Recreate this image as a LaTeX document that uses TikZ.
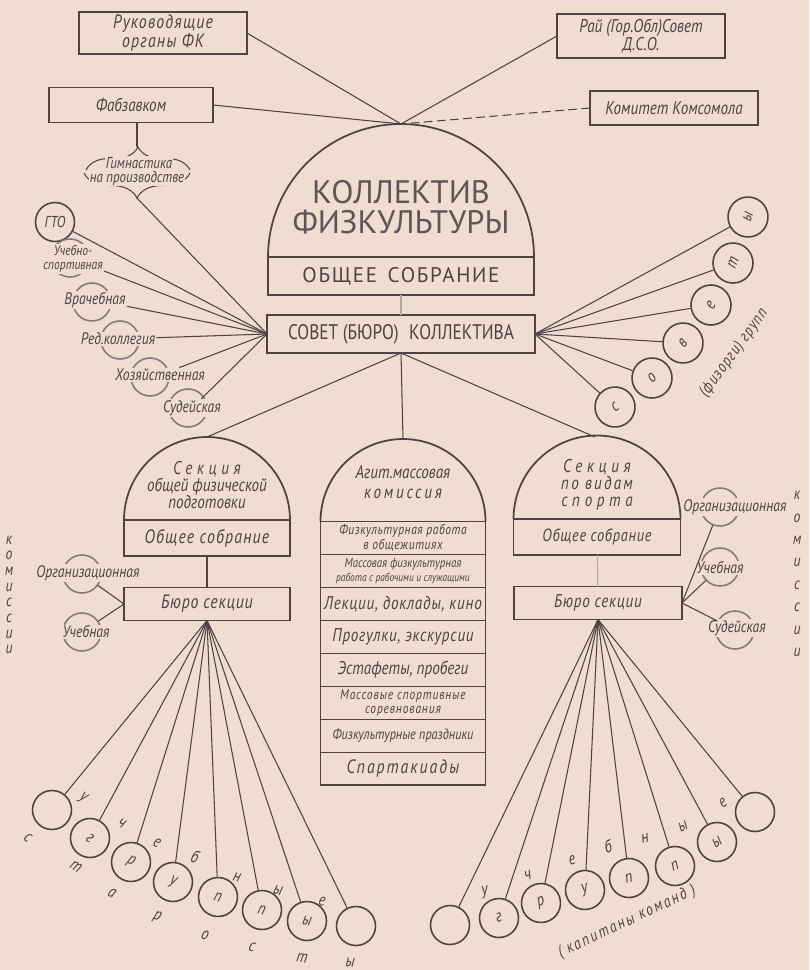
\documentclass[tikz,border=0pt]{standalone}
\usepackage{fontspec}
\setmainfont{PT Sans}
\newfontfamily\gostfont{PT Sans}[FakeStretch=0.82]
\newfontfamily\titlefont{PT Sans}
\usetikzlibrary{positioning, shapes.geometric, decorations.pathreplacing, calc}
\definecolor{paper}{RGB}{239,221,209}
\definecolor{ink}{RGB}{78,66,66}

\begin{document}
\begin{tikzpicture}[
    x=0.02cm, y=-0.02cm,
    every node/.style={align=center, text=ink, font=\gostfont\itshape\fontsize{10}{10}\selectfont},
    orgbox/.style={draw=ink, rectangle, line width=1.1pt, inner sep=1pt, outer sep=0pt},
    domeline/.style={draw=ink, line width=1pt},
    link/.style={draw=ink, line width=0.6pt},
    commring/.style={draw=ink!70, circle, line width=0.9pt, minimum size=0.76cm, inner sep=0pt},
    commlabel/.style={fill=paper, inner sep=0.6pt, font=\gostfont\itshape\fontsize{9.5}{9}\selectfont},
    groupcircle/.style={draw=ink, circle, line width=0.9pt, minimum size=0.78cm, inner sep=0pt, font=\gostfont\itshape\fontsize{10}{10}\selectfont},
    fanletter/.style={inner sep=0pt, font=\gostfont\itshape\fontsize{10}{10}\selectfont}
]
\fill[paper] (0,0) rectangle (809,970);
\useasboundingbox (0,0) rectangle (809,970);

\node[orgbox, minimum width=3.36cm, minimum height=0.84cm, font=\gostfont\itshape\fontsize{11}{10}\selectfont\addfontfeature{LetterSpace=6}] (rukovod_organy) at (163,33) {Руководящие\\органы ФК};
\node[orgbox, minimum width=3.36cm, minimum height=0.88cm, font=\gostfont\itshape\fontsize{10.5}{10}\selectfont] (rai_sovet_dso) at (641,36) {Рай (Гор.Обл)Совет\\Д.С.О.};
\node[orgbox, minimum width=3.28cm, minimum height=0.70cm, font=\gostfont\itshape\fontsize{10.5}{10}\selectfont] (fabzavkom) at (131,105) {Фабзавком};
\node[orgbox, minimum width=3.36cm, minimum height=0.68cm, font=\gostfont\itshape\fontsize{10.5}{10}\selectfont] (komitet_komsomola) at (674,108) {Комитет Комсомола};

\coordinate (gymnastics_peak) at (137,147);
\coordinate (gymnastics_tip) at (137,198);
\draw[link, decorate, decoration={brace, amplitude=0.46cm}] (86,170) -- (190,170);
\draw[link, decorate, decoration={brace, amplitude=0.5cm}] (190,173) -- (84,173);
\node[fill=paper, inner sep=0.5pt, font=\gostfont\itshape\fontsize{9}{9}\selectfont] (gymnastics_top_text) at (139,163) {Гимнастика};
\node[fill=paper, inner sep=0.5pt, font=\gostfont\itshape\fontsize{9}{9}\selectfont] (gymnastics_bottom_text) at (137,178) {на производстве};

\node[orgbox, minimum width=5.32cm, minimum height=0.76cm, font=\titlefont\fontsize{12}{12}\selectfont\addfontfeature{LetterSpace=8}] (kollektiv_sobranie) at (401,276) {ОБЩЕЕ\enspace СОБРАНИЕ};
\draw[domeline] (kollektiv_sobranie.north west) arc[start angle=180, end angle=0, radius=2.66cm];
\coordinate (kollektiv_top) at (401,124);
\node[text=ink!90, font=\titlefont\fontsize{18.5}{17}\selectfont] (kollektiv_title) at (401,207) {КОЛЛЕКТИВ\\ФИЗКУЛЬТУРЫ};
\node[orgbox, minimum width=5.36cm, minimum height=0.76cm, font=\gostfont\fontsize{12}{12}\selectfont] (sovet_kollektiva) at (401,334) {СОВЕТ (БЮРО)\enspace КОЛЛЕКТИВА};

\draw[link] (rukovod_organy.east) -- (kollektiv_top);
\draw[link] (fabzavkom.east) -- (kollektiv_top);
\draw[link] (rai_sovet_dso.west) -- (kollektiv_top);
\draw[link, dash pattern=on 5pt off 2.5pt] (komitet_komsomola.west) -- (kollektiv_top);
\draw[link] (gymnastics_peak |- fabzavkom.south) -- (gymnastics_peak);
\draw[link, draw=ink!45] (kollektiv_sobranie) -- (sovet_kollektiva);

\node[draw=ink, circle, line width=0.9pt, minimum size=0.78cm, inner sep=0pt, font=\gostfont\itshape\fontsize{9}{9}\selectfont] (gto) at (55,222) {ГТО};
\node[commring] (uchebno_sport_ring) at (70,258) {};
\node[commlabel, font=\gostfont\itshape\fontsize{8}{8}\selectfont] (uchebno_sport) at (73,259) {Учебно-\\спортивная};
\node[commring] (vrachebnaya_ring) at (92,302) {};
\node[commlabel] (vrachebnaya) at (95,300) {Врачебная};
\node[commring] (red_kollegiya_ring) at (120,340) {};
\node[commlabel] (red_kollegiya) at (118,339) {Ред.коллегия};
\node[commring] (khozyaistvennaya_ring) at (150,377) {};
\node[commlabel] (khozyaistvennaya) at (160,375) {Хозяйственная};
\node[commring] (sudeiskaya_ring) at (188,408) {};
\node[commlabel] (sudeiskaya) at (192,408) {Судейская};

\draw[link] (sovet_kollektiva.west) -- (gto);
\draw[link] (sovet_kollektiva.west) -- (uchebno_sport);
\draw[link] (sovet_kollektiva.west) -- (vrachebnaya);
\draw[link] (sovet_kollektiva.west) -- (red_kollegiya);
\draw[link] (sovet_kollektiva.west) -- (khozyaistvennaya);
\draw[link] (sovet_kollektiva.west) -- (sudeiskaya);
\draw[link] (sovet_kollektiva.west) -- (gymnastics_tip);

\node[groupcircle, minimum size=0.8cm, rotate=38] (fizorg_s) at (615,407) {с};
\node[groupcircle, minimum size=0.8cm, rotate=43] (fizorg_o) at (652,378) {о};
\node[groupcircle, minimum size=0.8cm, rotate=51] (fizorg_v) at (683,343) {в};
\node[groupcircle, minimum size=0.8cm, rotate=58] (fizorg_e) at (711,305) {е};
\node[groupcircle, minimum size=0.8cm, rotate=67] (fizorg_t) at (733,263) {т};
\node[groupcircle, minimum size=0.8cm, rotate=72] (fizorg_y) at (748,217) {ы};
\node[rotate=54, font=\gostfont\itshape\fontsize{9.5}{9}\selectfont\addfontfeature{LetterSpace=6}] (fizorgi_grupp) at (734,353) {(физорги) групп};
\draw[link] (sovet_kollektiva.east) -- (fizorg_s);
\draw[link] (sovet_kollektiva.east) -- (fizorg_o);
\draw[link] (sovet_kollektiva.east) -- (fizorg_v);
\draw[link] (sovet_kollektiva.east) -- (fizorg_e);
\draw[link] (sovet_kollektiva.east) -- (fizorg_t);
\draw[link] (sovet_kollektiva.east) -- (fizorg_y);

\node[orgbox, minimum width=3.32cm, minimum height=0.72cm, font=\gostfont\itshape\fontsize{11}{10}\selectfont\addfontfeature{LetterSpace=6}] (left_sobranie) at (207,538) {Общее собрание};
\draw[domeline] (left_sobranie.north west) arc[start angle=180, end angle=0, radius=1.66cm];
\coordinate (left_section_top) at (207,437);
\node[font=\gostfont\itshape\fontsize{10.5}{9.6}\selectfont] (left_section_title) at (207,485) {{\addfontfeature{LetterSpace=25}Секция}\\общей физической\\подготовки};
\node[orgbox, minimum width=3.32cm, minimum height=0.66cm, font=\gostfont\itshape\fontsize{11}{10}\selectfont\addfontfeature{LetterSpace=4}] (left_buro) at (207,604) {Бюро секции};
\draw[link] (left_sobranie) -- (left_buro);

\node[commring] (left_org_ring) at (82,574) {};
\node[commlabel] (left_org) at (88,573) {Организационная};
\node[commring] (left_ucheb_ring) at (82,632) {};
\node[commlabel] (left_ucheb) at (86,632) {Учебная};
\draw[link] (left_buro.west) -- (left_org_ring);
\draw[link] (left_buro.west) -- (left_ucheb_ring);
\node[font=\gostfont\itshape\fontsize{9.5}{8.9}\selectfont] (left_komissii) at (9,595) {к\\о\\м\\и\\с\\с\\и\\и};

\node[orgbox, minimum width=3.3cm, minimum height=0.66cm, font=\gostfont\itshape\fontsize{8}{8.5}\selectfont\addfontfeature{LetterSpace=4}] (agit_obshchezhitiya) at (403,538) {Физкультурная работа\\в общежитиях};
\draw[domeline] (agit_obshchezhitiya.north west) arc[start angle=180, end angle=0, radius=1.65cm];
\coordinate (middle_section_top) at (403,439);
\node[font=\gostfont\itshape\fontsize{10.5}{11.3}\selectfont] (agit_title) at (403,482) {Агит.массовая\\{\addfontfeature{LetterSpace=15}комиссия}};
\node[orgbox, minimum width=3.3cm, minimum height=0.66cm, below=0pt of agit_obshchezhitiya, font=\gostfont\itshape\fontsize{7.5}{7.5}\selectfont] (agit_rabochie) {Массовая физкультурная\\{\fontsize{6.5}{6.5}\selectfont работа с рабочими и служащими}};
\node[orgbox, minimum width=3.3cm, minimum height=0.66cm, below=0pt of agit_rabochie, font=\gostfont\itshape\fontsize{10.5}{10}\selectfont\addfontfeature{LetterSpace=4}] (agit_lektsii) {Лекции, доклады, кино};
\node[orgbox, minimum width=3.3cm, minimum height=0.66cm, below=0pt of agit_lektsii, font=\gostfont\itshape\fontsize{10.5}{10}\selectfont\addfontfeature{LetterSpace=4}] (agit_progulki) {Прогулки, экскурсии};
\node[orgbox, minimum width=3.3cm, minimum height=0.66cm, below=0pt of agit_progulki, font=\gostfont\itshape\fontsize{10.5}{10}\selectfont] (agit_estafety) {Эстафеты, пробеги};
\node[orgbox, minimum width=3.3cm, minimum height=0.66cm, below=0pt of agit_estafety, font=\gostfont\itshape\fontsize{8}{8.5}\selectfont\addfontfeature{LetterSpace=6}] (agit_sorevnovaniya) {Массовые спортивные\\соревнования};
\node[orgbox, minimum width=3.3cm, minimum height=0.66cm, below=0pt of agit_sorevnovaniya, font=\gostfont\itshape\fontsize{8.5}{8.5}\selectfont] (agit_prazdniki) {Физкультурные праздники};
\node[orgbox, minimum width=3.3cm, minimum height=0.66cm, below=0pt of agit_prazdniki, font=\gostfont\itshape\fontsize{11}{10}\selectfont\addfontfeature{LetterSpace=10}] (agit_spartakiady) {Спартакиады};

\node[orgbox, minimum width=3.34cm, minimum height=0.72cm, font=\gostfont\itshape\fontsize{10}{10}\selectfont\addfontfeature{LetterSpace=4}] (right_sobranie) at (597,537) {Общее собрание};
\draw[domeline] (right_sobranie.north west) arc[start angle=180, end angle=0, radius=1.67cm];
\coordinate (right_section_top) at (595,437);
\node[font=\gostfont\itshape\fontsize{10.5}{9.6}\selectfont] (right_section_title) at (597,485) {{\addfontfeature{LetterSpace=25}Секция}\\{\addfontfeature{LetterSpace=12}по видам}\\{\addfontfeature{LetterSpace=25}спорта}};
\node[orgbox, minimum width=3.36cm, minimum height=0.66cm, font=\gostfont\itshape\fontsize{10.5}{10}\selectfont\addfontfeature{LetterSpace=4}] (right_buro) at (598,603) {Бюро секции};
\draw[link, draw=ink!45] (right_sobranie) -- (right_buro);

\node[commring] (right_org_ring) at (720,507) {};
\node[commlabel] (right_org) at (735,507) {Организационная};
\node[commring] (right_ucheb_ring) at (720,567) {};
\node[commlabel] (right_ucheb) at (720,568) {Учебная};
\node[commring] (right_sud_ring) at (735,630) {};
\node[commlabel] (right_sud) at (737,628) {Судейская};
\draw[link] (right_buro.east) -- (right_org_ring);
\draw[link] (right_buro.east) -- (right_ucheb_ring);
\draw[link] (right_buro.east) -- (right_sud_ring);
\node[font=\gostfont\itshape\fontsize{9.5}{12.75}\selectfont] (right_komissii) at (797,574) {к\\о\\м\\и\\с\\с\\и\\и};

\draw[link] (sovet_kollektiva.south) -- (left_section_top);
\draw[link] (sovet_kollektiva.south) -- (middle_section_top);
\draw[link] (sovet_kollektiva.south) -- (right_section_top);

\node[groupcircle] (left_group_1) at (52,810) {};
\node[groupcircle, rotate=-33] (left_group_2) at (90,838) {г};
\node[groupcircle, rotate=-28] (left_group_3) at (131,862) {р};
\node[groupcircle, rotate=-22] (left_group_4) at (173,882) {у};
\node[groupcircle, rotate=-17] (left_group_5) at (218,897) {п};
\node[groupcircle, rotate=-15] (left_group_6) at (262,910) {п};
\node[groupcircle, rotate=-10] (left_group_7) at (307,921) {ы};
\node[groupcircle] (left_group_8) at (356,926) {};
\draw[link] (left_buro.south) -- (left_group_1);
\draw[link] (left_buro.south) -- (left_group_2);
\draw[link] (left_buro.south) -- (left_group_3);
\draw[link] (left_buro.south) -- (left_group_4);
\draw[link] (left_buro.south) -- (left_group_5);
\draw[link] (left_buro.south) -- (left_group_6);
\draw[link] (left_buro.south) -- (left_group_7);
\draw[link] (left_buro.south) -- (left_group_8);

\node[fanletter, rotate=-36] (left_upper_u) at (83,798) {у};
\node[fanletter, rotate=-30] (left_upper_ch) at (122,823) {ч};
\node[fanletter, rotate=-25] (left_upper_e) at (157,843) {е};
\node[fanletter, rotate=-18] (left_upper_b) at (195,857) {б};
\node[fanletter, rotate=-16] (left_upper_n) at (237,877) {н};
\node[fanletter, rotate=-15] (left_upper_y) at (278,890) {ы};
\node[fanletter, rotate=-8] (left_upper_e2) at (322,902) {е};
\node[fanletter, rotate=-36] (left_lower_s) at (28,838) {с};
\node[fanletter, rotate=-32] (left_lower_t) at (76,867) {т};
\node[fanletter, rotate=-28] (left_lower_a) at (112,893) {а};
\node[fanletter, rotate=-22] (left_lower_r) at (157,917) {р};
\node[fanletter, rotate=-17] (left_lower_o) at (205,935) {о};
\node[fanletter, rotate=-15] (left_lower_s2) at (252,947) {с};
\node[fanletter, rotate=-10] (left_lower_t2) at (302,958) {т};
\node[fanletter, rotate=-5] (left_lower_y) at (350,963) {ы};

\node[groupcircle] (right_group_1) at (450,925) {};
\node[groupcircle, rotate=14] (right_group_2) at (499,918) {г};
\node[groupcircle, rotate=17] (right_group_3) at (541,903) {р};
\node[groupcircle, rotate=15] (right_group_4) at (585,890) {у};
\node[groupcircle, rotate=14] (right_group_5) at (629,878) {п};
\node[groupcircle, rotate=22] (right_group_6) at (675,866) {п};
\node[groupcircle, rotate=34] (right_group_7) at (717,842) {ы};
\node[groupcircle] (right_group_8) at (755,812) {};
\draw[link] (right_buro.south) -- (right_group_1);
\draw[link] (right_buro.south) -- (right_group_2);
\draw[link] (right_buro.south) -- (right_group_3);
\draw[link] (right_buro.south) -- (right_group_4);
\draw[link] (right_buro.south) -- (right_group_5);
\draw[link] (right_buro.south) -- (right_group_6);
\draw[link] (right_buro.south) -- (right_group_7);
\draw[link] (right_buro.south) -- (right_group_8);

\node[fanletter, rotate=10] (right_upper_u) at (485,892) {у};
\node[fanletter, rotate=16] (right_upper_ch) at (528,875) {ч};
\node[fanletter, rotate=16] (right_upper_e) at (572,860) {е};
\node[fanletter, rotate=15] (right_upper_b) at (608,847) {б};
\node[fanletter, rotate=13] (right_upper_n) at (645,838) {н};
\node[fanletter, rotate=25] (right_upper_y) at (683,827) {ы};
\node[fanletter, rotate=35] (right_upper_e2) at (723,803) {е};
\node[fanletter, rotate=25, font=\gostfont\itshape\fontsize{9.5}{9}\selectfont\addfontfeature{LetterSpace=12}] (kapitany_komand) at (627,922) {( капитаны команд )};
\end{tikzpicture}
\end{document}
